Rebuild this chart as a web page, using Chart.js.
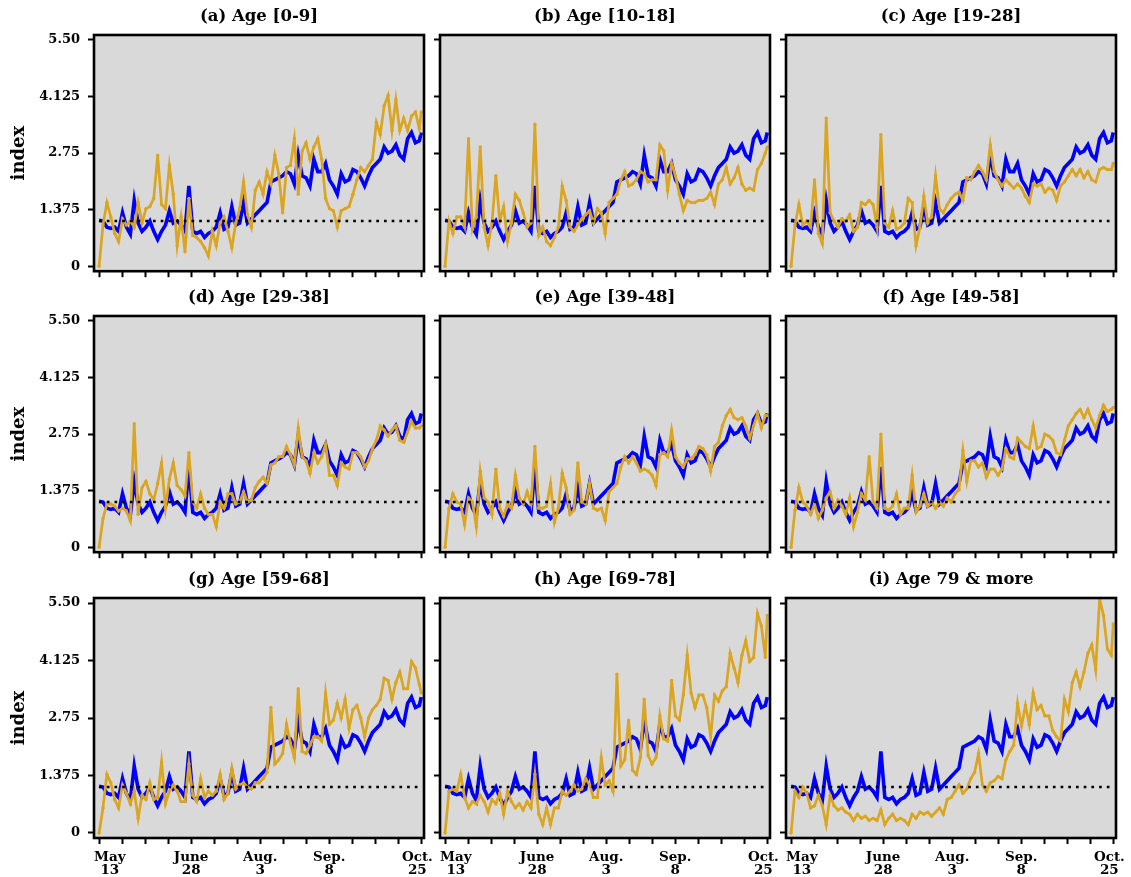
<!DOCTYPE html>
<html><head><meta charset="utf-8">
<script src="https://cdn.jsdelivr.net/npm/chart.js@4.4.0/dist/chart.umd.min.js"></script>
<style>
html,body{margin:0;padding:0;background:#fff;width:1131px;height:877px;overflow:hidden;}
#wrap{position:relative;width:1131px;height:877px;}
canvas{position:absolute;}
</style></head><body><div id="wrap"></div>
<script>
// ---------- data (day index since May 13; one value every 2 days + Oct 25) ----------
const DAYS = Array.from({length: 83}, (_, i) => 2 * i).concat([165]);

const OVERALL = [1.12,1.10,0.95,0.92,0.95,0.85,1.30,0.95,0.78,1.60,
 1.05,0.85,0.95,1.10,0.85,0.65,0.85,1.00,1.35,1.05,
 1.10,1.00,0.85,1.95,0.85,0.80,0.85,0.70,0.80,0.85,
 0.95,1.30,0.90,0.95,1.45,1.00,1.05,1.55,1.05,1.15,
 1.25,1.35,1.45,1.55,2.05,2.10,2.15,2.20,2.30,2.25,
 2.00,2.70,2.20,2.15,1.95,2.60,2.30,2.30,2.50,2.10,
 1.95,1.75,2.25,2.05,2.10,2.35,2.30,2.15,1.95,2.20,
 2.40,2.50,2.60,2.90,2.75,2.80,2.95,2.70,2.60,3.10,
 3.25,3.00,3.05,3.25];

const AGE_0_9 = [0,1.0,1.55,1.2,0.8,0.6,1.15,1.0,1.1,0.95,
 1.55,1.05,1.4,1.45,1.65,2.7,1.5,1.4,2.45,1.75,
 0.5,1.2,0.35,1.65,0.75,0.7,0.6,0.45,0.25,0.85,
 0.5,1.05,1.2,0.85,0.45,1.05,1.4,2.05,1.25,0.95,
 1.85,2.05,1.75,2.3,2.0,2.7,2.25,1.3,2.4,2.45,
 3.1,1.75,2.8,3.0,2.6,2.9,3.1,2.6,1.65,1.4,
 1.35,0.95,1.35,1.4,1.45,1.75,2.1,2.4,2.3,2.45,
 2.6,3.5,3.2,3.9,4.15,3.3,4.05,3.3,3.6,3.3,
 3.65,3.75,3.35,3.75];

const AGE_10_18 = [0,1.1,0.8,1.2,1.2,0.95,3.1,0.9,1.2,2.9,
 0.95,0.5,1.05,2.2,1.1,1.45,0.6,1.05,1.75,1.6,
 1.3,0.95,1.05,3.45,0.75,0.95,0.6,0.5,0.7,0.95,
 1.95,1.6,0.95,0.85,1.0,1.15,1.25,1.35,1.05,1.4,
 1.3,0.8,1.55,1.65,1.75,2.1,2.3,1.95,2.0,2.1,
 2.3,2.25,2.05,2.1,2.1,2.95,2.8,1.85,2.5,2.2,
 1.75,1.35,1.6,1.55,1.55,1.6,1.6,1.65,1.8,1.5,
 2.0,2.1,2.4,2.0,2.15,2.4,2.0,1.85,1.9,1.85,
 2.35,2.5,2.75,2.9];

const AGE_19_28 = [0,1.0,1.5,1.0,1.1,0.95,2.1,0.8,0.55,3.6,
 1.3,1.1,0.95,1.15,1.1,1.25,0.85,0.95,1.55,1.5,
 1.6,1.5,0.95,3.2,1.05,0.95,1.35,0.9,0.95,1.05,
 1.65,1.55,0.5,0.95,1.7,1.05,1.2,2.2,1.4,1.3,
 1.5,1.65,1.75,1.8,1.6,2.15,2.1,2.3,2.45,2.3,
 2.1,2.95,2.3,2.1,1.95,2.1,2.0,1.9,2.0,1.9,
 1.7,1.55,2.0,1.95,2.0,1.8,1.9,1.85,1.6,1.95,
 2.05,2.2,2.35,2.2,2.35,2.15,2.3,2.1,2.05,2.35,
 2.4,2.35,2.35,2.5];

const AGE_29_38 = [0,0.7,1.05,1.05,1.0,0.88,0.95,0.88,0.64,3.0,
 0.8,1.45,1.6,1.3,1.15,1.55,2.05,0.95,1.65,2.05,
 1.5,1.4,1.25,2.3,1.1,0.95,1.3,0.95,0.8,0.8,
 0.5,1.1,0.95,1.3,1.3,1.05,1.1,1.35,1.1,1.15,
 1.45,1.6,1.7,1.55,2.0,2.05,2.2,2.2,2.45,2.25,
 2.0,2.9,2.2,2.1,1.8,2.3,2.05,2.2,2.5,1.75,
 1.75,1.5,2.05,1.95,1.9,2.3,2.3,2.2,1.95,2.1,
 2.4,2.6,2.95,2.85,2.7,2.85,2.95,2.6,2.55,2.8,
 3.05,2.9,2.9,2.95];

const AGE_39_48 = [0,0.95,1.3,1.1,1.05,0.55,1.2,1.1,0.5,1.85,
 1.2,1.1,0.8,1.9,0.95,0.75,1.05,0.95,1.75,1.2,
 1.05,1.35,1.05,2.45,0.95,0.95,1.0,1.55,0.6,0.95,
 1.8,1.45,0.8,0.9,2.05,1.1,1.05,1.55,0.95,0.9,
 0.95,0.65,1.35,1.45,1.55,1.95,2.2,2.05,2.2,2.05,
 1.85,1.9,1.85,1.75,1.5,2.25,2.3,2.2,2.85,2.2,
 2.05,1.95,2.15,2.15,2.25,2.45,2.4,2.25,1.85,2.45,
 2.55,2.95,3.2,3.35,3.15,3.1,3.15,2.95,2.65,2.95,
 3.25,2.9,3.2,3.2];

const AGE_49_58 = [0,0.9,1.45,1.1,1.0,0.8,1.05,0.7,0.9,1.2,
 1.35,0.95,1.15,1.0,0.8,1.2,0.5,0.85,1.3,1.15,
 2.2,1.1,0.95,2.75,0.95,0.9,1.0,1.3,0.8,0.95,
 0.95,1.75,0.85,1.0,1.3,1.0,1.1,0.95,1.1,1.0,
 1.2,1.1,1.3,1.4,2.35,1.6,2.1,2.1,1.95,2.05,
 1.7,1.9,1.9,1.75,1.9,2.4,2.2,2.15,2.65,2.55,
 2.45,2.4,2.95,2.4,2.45,2.75,2.7,2.6,2.3,2.25,
 2.6,2.95,3.1,3.25,3.35,3.15,3.35,3.1,2.9,3.2,
 3.45,3.3,3.35,3.4];

const AGE_59_68 = [0,0.6,1.4,1.2,0.8,0.6,1.15,0.95,0.7,1.0,
 0.35,0.9,0.8,1.2,0.8,0.85,1.7,0.7,1.0,1.15,
 1.0,0.75,0.75,1.65,0.9,0.75,1.3,0.85,1.0,0.9,
 1.0,1.4,0.8,0.95,1.55,1.05,1.15,1.2,1.1,1.05,
 1.2,1.2,1.3,1.45,3.0,1.65,1.75,1.9,2.6,2.15,
 1.8,3.45,1.95,1.9,2.1,2.3,2.3,2.2,3.35,2.6,
 2.7,3.1,2.75,3.2,2.5,2.95,3.05,2.75,2.3,2.75,
 2.95,3.05,3.2,3.7,3.65,3.2,3.6,3.85,3.45,3.45,
 4.1,3.95,3.55,3.35];

const AGE_69_78 = [0,1.0,1.05,1.0,1.4,0.85,0.6,0.75,0.7,0.9,
 0.75,0.5,0.8,0.7,0.95,0.45,1.0,0.75,0.6,0.7,
 0.55,0.75,0.6,1.4,0.45,0.2,0.6,0.2,0.6,0.6,
 1.0,0.9,1.0,1.15,1.0,1.05,1.3,1.15,0.85,0.85,
 1.8,1.15,1.25,1.0,3.8,1.6,1.75,2.7,1.5,1.4,
 1.8,3.2,1.85,1.65,1.8,2.8,2.25,2.2,3.65,2.8,
 2.7,3.3,4.25,3.35,3.0,3.3,3.3,3.0,2.3,3.3,
 3.15,3.4,3.5,4.3,3.95,3.6,4.25,4.6,4.1,4.2,
 5.25,4.95,4.2,5.2];

const AGE_79_PLUS = [0,1.0,0.85,1.1,0.95,0.6,0.65,0.9,0.65,0.2,
 0.9,0.65,0.55,0.6,0.5,0.45,0.3,0.45,0.35,0.4,
 0.3,0.35,0.3,0.55,0.2,0.35,0.45,0.3,0.35,0.3,
 0.2,0.45,0.35,0.5,0.45,0.5,0.4,0.5,0.6,0.45,
 0.8,0.85,1.0,1.15,0.95,1.05,1.3,1.45,1.9,1.15,
 1.0,1.2,1.25,1.35,1.3,1.75,1.95,2.1,3.1,2.55,
 3.05,2.6,3.35,2.95,3.05,2.8,2.8,2.45,2.3,2.2,
 3.2,2.9,3.6,3.85,3.5,3.85,4.3,4.5,3.9,5.6,
 5.2,4.4,4.25,5.0];

const AGE_SERIES = [AGE_0_9, AGE_10_18, AGE_19_28, AGE_29_38, AGE_39_48, AGE_49_58, AGE_59_68, AGE_69_78, AGE_79_PLUS];
const PANEL_TITLES = ['(a) Age [0-9]', '(b) Age [10-18]', '(c) Age [19-28]', '(d) Age [29-38]', '(e) Age [39-48]', '(f) Age [49-58]', '(g) Age [59-68]', '(h) Age [69-78]', '(i) Age 79 & more'];

const Y_TICKS = [0, 1.375, 2.75, 4.125, 5.5];
const Y_TICK_LABELS = ['0', '1.375', '2.75', '4.125', '5.50'];
const X_TICK_LABELS = [['May', '13'], ['June', '28'], ['Aug.', '3'], ['Sep.', '8'], ['Oct.', '25']];
const X_LABEL_DAYS = [5.5, 47.14, 82.5, 117.86, 163];
const X_MARK_COUNT = 15;
const LAST_DAY = 165;
const REF_DAYS = [0, 165];
const REF_VALUES = [1.1, 1.1];

// ---------- styling / layout ----------
const FONT = "'DejaVu Serif', serif";
const BLUE = '#0000ff';
const ORANGE = '#daa520';
const PLOT_BG = '#d9d9d9';
const COL_LEFT = [94, 440, 786];
const ROW_TOP = [35, 316, 598];
const PLOT_W = 330, PLOT_H = 240;
const X_MIN = -2.6, X_MAX = 166.4, Y_MIN = -0.12, Y_MAX = 5.62;

const framePlugin = {
  id: 'frame',
  beforeDraw(chart) {
    const {ctx, chartArea: a} = chart;
    ctx.save(); ctx.fillStyle = PLOT_BG; ctx.fillRect(a.left, a.top, a.right - a.left, a.bottom - a.top); ctx.restore();
  },
  afterDatasetsDraw(chart) {
    const {ctx, chartArea: a} = chart;
    ctx.save(); ctx.strokeStyle = '#000'; ctx.lineWidth = 2.6;
    ctx.strokeRect(a.left, a.top, a.right - a.left, a.bottom - a.top); ctx.restore();
  }
};

function buildXTicks() {
  const t = [];
  for (let i = 0; i < X_MARK_COUNT; i++) t.push({value: i * LAST_DAY / (X_MARK_COUNT - 1), mark: true, lab: ''});
  X_LABEL_DAYS.forEach((d, j) => t.push({value: d, mark: false, lab: X_TICK_LABELS[j]}));
  return t.sort((a, b) => a.value - b.value);
}

function makePanel(idx) {
  const r = Math.floor(idx / 3), c = idx % 3;
  const L = c === 0 ? 94 : 12, R = 24, T = 36, B = r === 2 ? 39 : 12;
  const canvas = document.createElement('canvas');
  const w = L + PLOT_W + R, h = T + PLOT_H + B;
  canvas.width = w; canvas.height = h;
  canvas.style.width = w + 'px'; canvas.style.height = h + 'px';
  canvas.style.left = (COL_LEFT[c] - L) + 'px';
  canvas.style.top = (ROW_TOP[r] - T) + 'px';
  document.getElementById('wrap').appendChild(canvas);
  const series = AGE_SERIES[idx];
  new Chart(canvas, {
    type: 'line',
    data: {
      datasets: [
        {label: 'ref', data: REF_DAYS.map((d, i) => ({x: d, y: REF_VALUES[i]})), borderColor: '#000', borderWidth: 2.7, borderDash: [2.7, 5], borderCapStyle: 'butt', pointRadius: 0, order: 1},
        {label: 'age', data: DAYS.map((d, i) => ({x: d, y: series[i]})), borderColor: ORANGE, backgroundColor: ORANGE, borderWidth: 2.7, pointRadius: 1.7, pointBorderWidth: 0, pointBackgroundColor: ORANGE, tension: 0, order: 2},
        {label: 'all', data: DAYS.map((d, i) => ({x: d, y: OVERALL[i]})), borderColor: BLUE, backgroundColor: BLUE, borderWidth: 3.6, pointRadius: 0, tension: 0, order: 3}
      ]
    },
    options: {
      responsive: false, animation: false, devicePixelRatio: 1,
      layout: {padding: {left: 0, right: R, top: 0, bottom: 0}},
      plugins: {
        legend: {display: false}, tooltip: {enabled: false},
        title: {display: true, text: PANEL_TITLES[idx], fullSize: false, color: '#000',
          font: {family: FONT, weight: 'bold', size: 16.5, lineHeight: 1.2}, padding: {top: 8, bottom: 8.2}}
      },
      scales: {
        x: {
          type: 'linear', min: X_MIN, max: X_MAX,
          afterBuildTicks: s => { s.ticks = buildXTicks(); },
          afterFit: s => { s.height = B; },
          ticks: {autoSkip: false, maxRotation: 0, minRotation: 0, padding: 7.5, color: '#000',
            font: {family: FONT, weight: 'bold', size: 13.5, lineHeight: 0.92},
            callback: (v, i, ticks) => r === 2 ? ticks[i].lab : ''},
          grid: {drawOnChartArea: false, drawTicks: true, tickLength: 6, tickWidth: 2,
            tickColor: ctx => (ctx.tick && ctx.tick.mark) ? '#000' : 'rgba(0,0,0,0)'},
          border: {display: false}
        },
        y: {
          type: 'linear', min: Y_MIN, max: Y_MAX,
          afterBuildTicks: s => { s.ticks = Y_TICKS.map(v => ({value: v})); },
          afterFit: s => { s.width = L; },
          ticks: {autoSkip: false, padding: 8, color: '#000',
            font: {family: FONT, weight: 'bold', size: 13},
            callback: v => c === 0 ? Y_TICK_LABELS[Y_TICKS.indexOf(v)] : ''},
          grid: {drawOnChartArea: false, drawTicks: true, tickLength: 6, tickWidth: 2, tickColor: '#000'},
          border: {display: false},
          title: {display: c === 0, text: 'index', color: '#000',
            font: {family: FONT, weight: 'bold', size: 18, lineHeight: 1.2}, padding: {top: 9, bottom: 0}}
        }
      }
    },
    plugins: [framePlugin]
  });
}
for (let i = 0; i < 9; i++) makePanel(i);
</script></body></html>
